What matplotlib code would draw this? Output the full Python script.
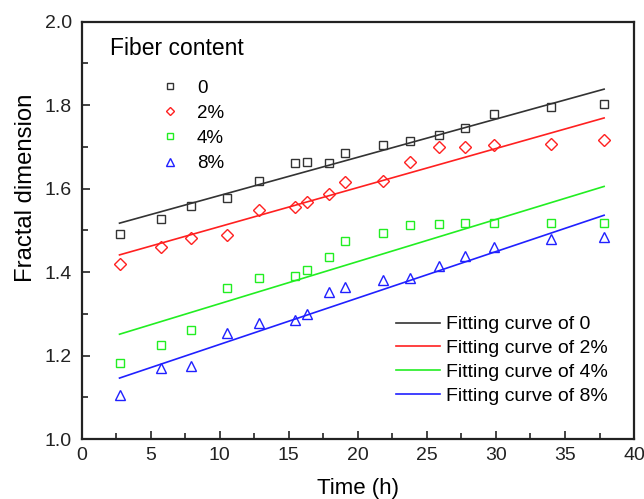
import numpy as np
import matplotlib
matplotlib.use("Agg")
import matplotlib.pyplot as plt
from matplotlib.lines import Line2D
from matplotlib.ticker import MultipleLocator

plt.rcParams['font.family'] = ['Liberation Sans', 'DejaVu Sans']

#===================== data =====================#
time = [2.75, 5.73, 7.94, 10.52, 12.87, 15.44, 16.29, 17.92, 19.06,
        21.83, 23.81, 25.86, 27.78, 29.89, 33.97, 37.83]

fd_0 = [1.492, 1.528, 1.559, 1.577, 1.617, 1.662, 1.664, 1.662, 1.686,
        1.705, 1.713, 1.729, 1.744, 1.779, 1.796, 1.802]
fd_2 = [1.420, 1.460, 1.482, 1.488, 1.549, 1.556, 1.567, 1.586, 1.615,
        1.618, 1.663, 1.700, 1.700, 1.705, 1.707, 1.715]
fd_4 = [1.181, 1.224, 1.261, 1.362, 1.386, 1.390, 1.406, 1.435, 1.475,
        1.493, 1.512, 1.515, 1.517, 1.517, 1.517, 1.518]
fd_8 = [1.106, 1.171, 1.176, 1.253, 1.279, 1.285, 1.300, 1.353, 1.364,
        1.381, 1.385, 1.415, 1.438, 1.459, 1.479, 1.484]

# fitted lines: value at first and last time
fit_t = [2.75, 37.83]
fit_0 = [1.517, 1.838]
fit_2 = [1.441, 1.769]
fit_4 = [1.251, 1.605]
fit_8 = [1.146, 1.536]

labels = ["0", "2%", "4%", "8%"]
colors = ["#333333", "#ff2020", "#22ee22", "#2020ff"]
markers = ["s", "D", "s", "^"]
msizes = [6, 6, 6, 7]

#===================== plot =====================#
fig = plt.figure(figsize=(6.44, 4.99), dpi=100)
ax = fig.add_axes([0.1266, 0.1202, 0.858, 0.8367])

series = [fd_0, fd_2, fd_4, fd_8]
fits = [fit_0, fit_2, fit_4, fit_8]

for ys, lab, c, m, ms in zip(series, labels, colors, markers, msizes):
    ax.plot(time, ys, linestyle='none', marker=m, ms=ms, mfc='none',
            mec=c, mew=1.0, label=lab)

for fy, c in zip(fits, colors):
    ax.plot(fit_t, fy, color=c, lw=1.2)

ax.set_xlim(0, 40)
ax.set_ylim(1.0, 2.0)
ax.xaxis.set_major_locator(MultipleLocator(5))
ax.xaxis.set_minor_locator(MultipleLocator(2.5))
ax.yaxis.set_major_locator(MultipleLocator(0.2))
ax.yaxis.set_minor_locator(MultipleLocator(0.1))
ax.yaxis.set_major_formatter(plt.FormatStrFormatter('%.1f'))
ax.tick_params(which='both', direction='in', top=False, right=False,
               labelsize=14, width=1.2, colors='#222222')
ax.tick_params(which='major', length=6)
ax.tick_params(which='minor', length=4)
ax.tick_params(axis='x', which='major', pad=6)
ax.tick_params(axis='y', which='major', pad=6.8)
for sp in ax.spines.values():
    sp.set_linewidth(1.6)
    sp.set_color('#222222')

ax.set_xlabel("Time (h)", fontsize=16)
ax.set_ylabel("Fractal dimension", fontsize=17.2)
ax.xaxis.set_label_coords(0.5, -0.0934)
ax.yaxis.set_label_coords(-0.0805, 0.601)

# marker legend
ax.text(0.052, 0.935, "Fiber content", transform=ax.transAxes,
        fontsize=16.5, ha='left', va='center')
h1 = [Line2D([], [], linestyle='none', marker=m, ms=ms - 1.5, mfc='none', mec=c, mew=1.0)
      for c, m, ms in zip(colors, markers, msizes)]
leg1 = ax.legend(h1, labels, loc='upper left',
                 bbox_to_anchor=(0.1395, 0.861), frameon=False, fontsize=13.5,
                 handlelength=1.2, handletextpad=0.85,
                 labelspacing=0.43, borderaxespad=0.0, borderpad=0.0)
ax.add_artist(leg1)

# fitting curve legend
h2 = [Line2D([], [], color=c, lw=1.2) for c in colors]
ax.legend(h2, ["Fitting curve of " + l for l in labels], loc='upper left',
          bbox_to_anchor=(0.569, 0.295), frameon=False, fontsize=14,
          handlelength=2.27, handletextpad=0.3, labelspacing=0.32,
          borderaxespad=0.0, borderpad=0.0)

fig.savefig("out.png", dpi=100)
